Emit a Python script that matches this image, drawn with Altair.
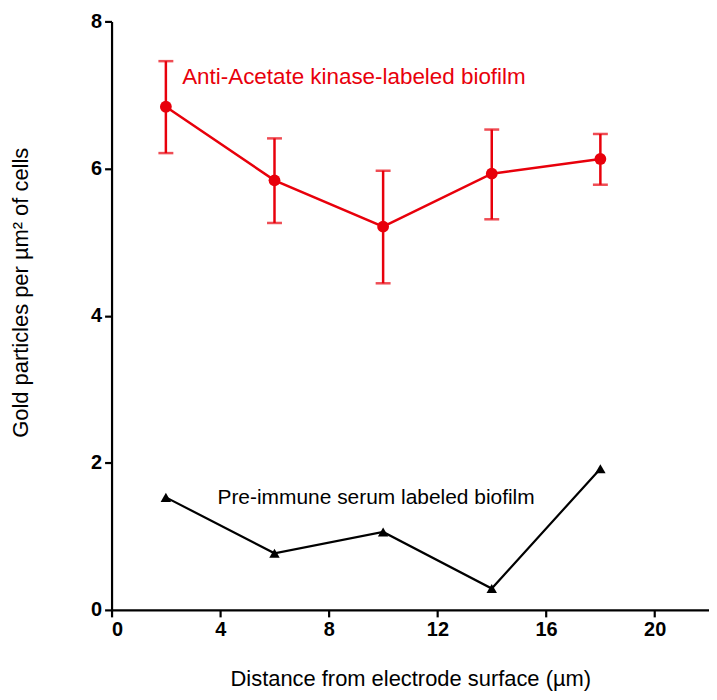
import altair as alt
import pandas as pd

distance = [2, 6, 10, 14, 18]
anti_mean = [6.84, 5.84, 5.21, 5.93, 6.13]
anti_low = [6.21, 5.26, 4.44, 5.31, 5.78]
anti_high = [7.46, 6.41, 5.97, 6.53, 6.47]
pre_mean = [1.53, 0.77, 1.06, 0.29, 1.92]

labels_text = ["Anti-Acetate kinase-labeled biofilm", "Pre-immune serum labeled biofilm"]
labels_x = [2.6, 3.9]
labels_y = [7.25, 1.52]
labels_color = ["#E8000B", "#000000"]
labels_size = [22.5, 21]

red = "#E8000B"

anti = pd.DataFrame({"x": distance, "y": anti_mean, "lo": anti_low, "hi": anti_high})
pre = pd.DataFrame({"x": distance, "y": pre_mean})
lab = pd.DataFrame({"x": labels_x, "y": labels_y, "t": labels_text, "c": labels_color,
                    "s": labels_size})

xs = alt.Scale(domain=[0, 22], nice=False)
ys = alt.Scale(domain=[0, 8], nice=False)

xax = alt.Axis(values=[0, 4, 8, 12, 16, 20], format="d",
               title="Distance from electrode surface (µm)", titlePadding=29)
yax = alt.Axis(values=[0, 2, 4, 6, 8], format="d",
               title="Gold particles per µm² of cells", titlePadding=58, titleY=272)

X = alt.X("x:Q", scale=xs, axis=xax)
Y = alt.Y("y:Q", scale=ys, axis=yax)

base_a = alt.Chart(anti)
bars = base_a.mark_rule(color=red, strokeWidth=2.5).encode(x="x:Q", y="lo:Q", y2="hi:Q")
cap_lo = base_a.mark_tick(color=red, thickness=2.5, size=15, orient="horizontal").encode(x="x:Q", y="lo:Q")
cap_hi = base_a.mark_tick(color=red, thickness=2.5, size=15, orient="horizontal").encode(x="x:Q", y="hi:Q")
line_a = base_a.mark_line(color=red, strokeWidth=2.5).encode(x=X, y=Y)
pts_a = base_a.mark_point(color=red, filled=True, opacity=1, size=140, shape="circle").encode(x="x:Q", y="y:Q")

base_p = alt.Chart(pre)
line_p = base_p.mark_line(color="black", strokeWidth=2.2).encode(x="x:Q", y="y:Q")
pts_p = base_p.mark_point(color="black", filled=True, opacity=1, size=110, shape="triangle-up").encode(x="x:Q", y="y:Q")

txt = alt.Chart(lab).mark_text(align="left", baseline="middle",
                               font="Liberation Sans").encode(
    x="x:Q", y="y:Q", text="t:N", color=alt.Color("c:N", scale=None),
    size=alt.Size("s:Q", scale=None))

chart = alt.layer(line_a, bars, cap_lo, cap_hi, pts_a, line_p, pts_p, txt).properties(
    width=600, height=591,
    autosize=alt.AutoSizeParams(type="none"),
    padding={"left": 104, "top": 12, "right": 0, "bottom": 88},
).configure_view(stroke=None).configure_axis(
    grid=False, domainColor="black", domainWidth=2.2, tickColor="black", tickWidth=2.2,
    tickSize=7, labelFont="Liberation Sans", labelFontWeight="bold", labelFontSize=20,
    labelColor="black", titleFont="Liberation Sans", titleFontWeight="normal",
    titleFontSize=22, titleColor="black", labelPadding=3
)

chart.save("out.html", embed_options={"renderer": "svg", "actions": False})
